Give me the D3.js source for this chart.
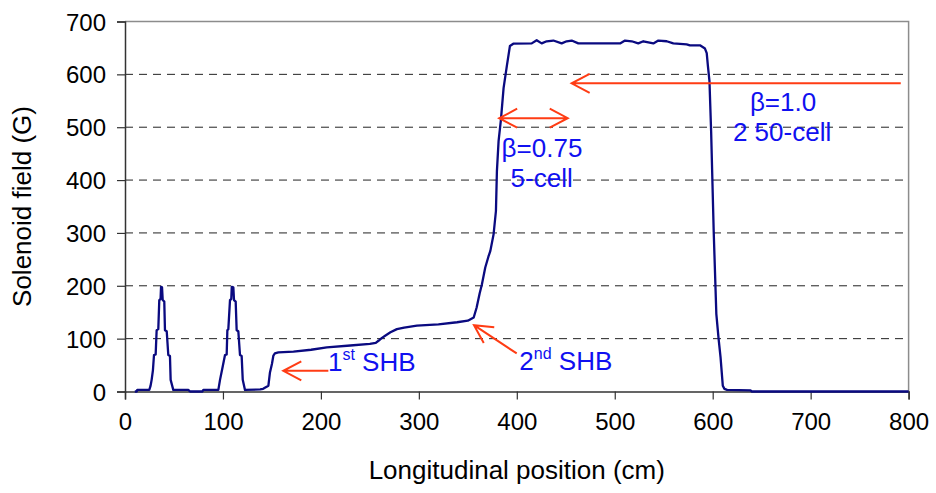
<!DOCTYPE html>
<html>
<head>
<meta charset="utf-8">
<script src="https://cdn.jsdelivr.net/npm/d3@7"></script>
<style>
  html, body { margin: 0; padding: 0; background: #fff; }
  svg { display: block; font-family: "Liberation Sans", Arial, sans-serif; }
</style>
</head>
<body>
<svg id="chart" width="936" height="493"></svg>
<script>
// Longitudinal position along the beamline (cm)
const positionCm = [10, 11.9, 12.5, 24.8, 26, 27.2, 28.5, 29.6, 31.3, 32.3, 34, 35, 36.3, 36.8, 37.8, 38.5, 40.1, 40.8, 42.6, 44.2, 45.9, 46.6, 49.3, 64.6, 66.4,
  79, 80, 95.3, 97, 99.5, 102.1, 103.8, 104.5, 105.5, 107.2, 108.5, 109, 110.6, 111.3, 113, 114, 115.7, 117.4, 119.1, 120.2, 122.5,
  138, 141, 146.4, 148, 150, 151.5, 153, 156.6, 172, 190, 206, 230, 250, 256, 258.8, 262, 265.6, 271, 277.6, 285, 298, 320, 339, 350, 356,
  359, 362, 364.4, 367.8, 371, 373, 376.3, 378.7, 379.7, 381.4, 383.8, 386.5, 390, 393, 396.4,
  415.2, 420.3, 425.4, 430.5, 437.3, 445.8, 450.9, 456, 462.8, 505.4, 510.5, 517.3, 524, 529.2, 539.4, 544.5, 553, 559.8, 573.4, 576.8, 587,
  592.1, 593.9, 595, 596.7, 598.4, 601, 603.7, 606, 608, 610.3, 612, 614.7, 638.6, 640, 800];

// Solenoid field at each position (G)
const fieldG = [0, 0, 3, 3, 10, 22, 40, 69, 70, 116, 118, 173, 175, 198, 197, 173, 170, 116, 114, 69, 67, 22, 3, 3, 0,
  0, 3, 3, 22, 45, 69, 70, 116, 118, 173, 175, 198, 197, 173, 170, 116, 114, 69, 67, 22, 3,
  4, 5, 11, 36, 52, 68, 72, 74, 75.5, 79, 83.6, 87, 90, 92, 96, 101, 105.6, 112, 118, 121, 124.5, 127, 131, 134, 140,
  159, 185, 203, 234.6, 255, 266, 297.5, 341.5, 417, 473.6, 514.5, 574, 618, 653.8, 658,
  658.6, 664.5, 658.6, 662.6, 664, 658.6, 662.6, 664, 658.6, 658.6, 664, 662.6, 658.6, 662.6, 658.6, 664, 662.6, 658.6, 656.9, 655, 655,
  648.8, 640, 618, 587, 492, 304, 147, 100, 65, 11, 5, 3, 2, 0, 0];

const xTicks = [0, 100, 200, 300, 400, 500, 600, 700, 800];
const yTicks = [0, 100, 200, 300, 400, 500, 600, 700];
const gridLevels = [100, 200, 300, 400, 500, 600];

// Annotation arrows: start point, tip point, and whether the start has a head too
const arrowFrom = [[792, 583], [452, 517], [207.6, 39.2], [399.9, 72]];
const arrowTo   = [[456, 583], [382, 517], [161.6, 39.2], [356.3, 125.5]];
const arrowBothEnds = [false, true, false, false];

// Annotation labels
const labelText = ["β=1.0", "2 50-cell", "β=0.75", "5-cell"];
const labelPos  = [[671.8, 531], [670.8, 474.5], [425.7, 443], [425.4, 386.4]];
const shbMain = ["1", "2"];
const shbSup  = ["st", "nd"];
const shbPos  = [[207.2, 39.2], [402.6, 40.6]];

const svg = d3.select("#chart");
const plotLeft = 125, plotRight = 908.6, plotTop = 21.5, plotBottom = 391.5;

const x = d3.scaleLinear().domain([0, 800]).range([plotLeft, plotRight]);
const y = d3.scaleLinear().domain([0, 700]).range([plotBottom, plotTop]);

svg.append("rect").attr("width", 936).attr("height", 493).attr("fill", "#fff");

// dashed horizontal gridlines
svg.append("g").selectAll("line").data(gridLevels).join("line")
  .attr("x1", plotLeft).attr("x2", plotRight)
  .attr("y1", d => y(d)).attr("y2", d => y(d))
  .attr("stroke", "#222").attr("stroke-width", 1)
  .attr("stroke-dasharray", "8,6");

// plot frame (top and right)
svg.append("path")
  .attr("d", `M${plotLeft},${plotTop}H${plotRight}V${plotBottom}`)
  .attr("fill", "none").attr("stroke", "#8c8c8c").attr("stroke-width", 1.5);

// axes
const xAxis = d3.axisBottom(x).tickValues(xTicks).tickSize(8).tickPadding(13).tickFormat(d3.format("d"));
const yAxis = d3.axisLeft(y).tickValues(yTicks).tickSize(8).tickPadding(11).tickFormat(d3.format("d"));

const gx = svg.append("g").attr("transform", `translate(0,${plotBottom})`).call(xAxis);
const gy = svg.append("g").attr("transform", `translate(${plotLeft},0)`).call(yAxis);
[gx, gy].forEach(g => {
  g.select(".domain").attr("stroke", "#333").attr("stroke-width", 1.5);
  g.selectAll(".tick line").attr("stroke", "#333").attr("stroke-width", 1.2);
  g.selectAll(".tick text").attr("fill", "#000").attr("font-size", 24)
    .attr("font-family", "'Liberation Sans', Arial, sans-serif");
});
gy.selectAll(".tick text").attr("dy", "0.36em");

// axis titles
svg.append("text").attr("x", (plotLeft + plotRight) / 2).attr("y", 479)
  .attr("text-anchor", "middle").attr("font-size", 26).attr("fill", "#000")
  .text("Longitudinal position (cm)");
svg.append("text").attr("transform", `translate(31,${(plotTop + plotBottom) / 2}) rotate(-90)`)
  .attr("text-anchor", "middle").attr("font-size", 26).attr("fill", "#000")
  .text("Solenoid field (G)");

// field profile
const line = d3.line().x((d, i) => x(positionCm[i])).y((d, i) => y(fieldG[i]));
svg.append("path").datum(fieldG)
  .attr("d", line)
  .attr("fill", "none").attr("stroke", "#0a0a80").attr("stroke-width", 2.3)
  .attr("stroke-linejoin", "round");

// arrows with open heads
const arrowColor = "#ff3c14";
function head(tx, ty, fx, fy) {
  const ang = Math.atan2(fy - ty, fx - tx);
  const len = 18, half = 9.5;
  const bx = tx + len * Math.cos(ang), by = ty + len * Math.sin(ang);
  const nx = -Math.sin(ang) * half, ny = Math.cos(ang) * half;
  return `M${bx + nx},${by + ny}L${tx},${ty}L${bx - nx},${by - ny}`;
}
const ag = svg.append("g").attr("fill", "none").attr("stroke", arrowColor).attr("stroke-width", 2);
arrowFrom.forEach((f, i) => {
  const fx = x(f[0]), fy = y(f[1]);
  const tx = x(arrowTo[i][0]), ty = y(arrowTo[i][1]);
  let d = `M${fx},${fy}L${tx},${ty}` + head(tx, ty, fx, fy);
  if (arrowBothEnds[i]) d += head(fx, fy, tx, ty);
  ag.append("path").attr("d", d);
});

// text labels
const textColor = "#1010f0";
labelText.forEach((t, i) => {
  svg.append("text").attr("x", x(labelPos[i][0])).attr("y", y(labelPos[i][1]))
    .attr("text-anchor", "middle").attr("font-size", 26).attr("fill", textColor).text(t);
});
shbMain.forEach((t, i) => {
  const txt = svg.append("text").attr("x", x(shbPos[i][0])).attr("y", y(shbPos[i][1]))
    .attr("font-size", 26).attr("fill", textColor);
  txt.append("tspan").text(t);
  txt.append("tspan").attr("font-size", 16).attr("dy", -11).text(shbSup[i]);
  txt.append("tspan").attr("dy", 11).text(" SHB");
});
</script>
</body>
</html>
